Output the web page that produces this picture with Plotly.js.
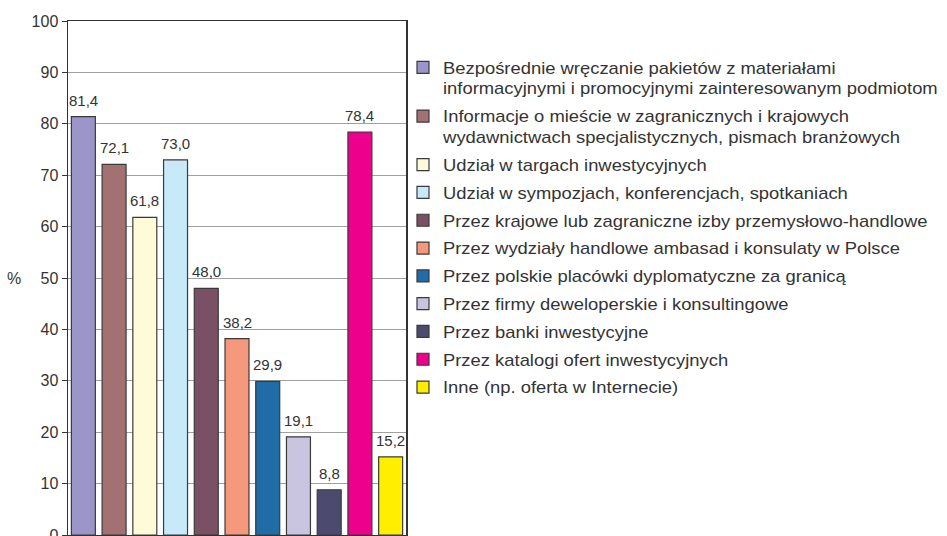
<!DOCTYPE html>
<html>
<head>
<meta charset="utf-8">
<script src="https://cdn.plot.ly/plotly-3.0.1.min.js"></script>
<style>
html,body{margin:0;padding:0;overflow:hidden;background:#fff;}
#chart{width:947px;height:536px;}
#chart .legendtext{transform-box:fill-box;transform-origin:0 50%;transform:scaleX(1.15);}
#chart .legend, #chart .legend *{clip-path:none !important;}
</style>
</head>
<body>
<div id="chart"></div>
<script>
const categories = [
  "Bezpośrednie wręczanie pakietów z materiałami<br>informacyjnymi i promocyjnymi zainteresowanym podmiotom",
  "Informacje o mieście w zagranicznych i krajowych<br>wydawnictwach specjalistycznych, pismach branżowych",
  "Udział w targach inwestycyjnych",
  "Udział w sympozjach, konferencjach, spotkaniach",
  "Przez krajowe lub zagraniczne izby przemysłowo-handlowe",
  "Przez wydziały handlowe ambasad i konsulaty w Polsce",
  "Przez polskie placówki dyplomatyczne za granicą",
  "Przez firmy deweloperskie i konsultingowe",
  "Przez banki inwestycyjne",
  "Przez katalogi ofert inwestycyjnych",
  "Inne (np. oferta w Internecie)"
];
const values = [81.4, 72.1, 61.8, 73.0, 48.0, 38.2, 29.9, 19.1, 8.8, 78.4, 15.2];
const colors = ["#9C95C9", "#A37171", "#FFFAD8", "#C8E9F8", "#7A5164", "#F5987B", "#1F6CA6", "#C9C5E1", "#4D4A6F", "#EC008C", "#FFEE00"];
const yTicks = [0, 10, 20, 30, 40, 50, 60, 70, 80, 90, 100];
const yLabel = "%";

const FONT = "Liberation Sans, Arial, sans-serif";

const traces = categories.map((name, i) => ({
  type: "bar",
  name: name,
  legendgroup: "g" + i,
  x: [i],
  y: [values[i]],
  width: 0.78,
  marker: { color: colors[i], line: { color: "#3a3a3a", width: 1.2 } },
  hoverinfo: "name+y"
}));

const annotations = values.map((v, i) => ({
  x: i, y: v, xref: "x", yref: "y",
  text: v.toFixed(1).replace(".", ","),
  showarrow: false, yanchor: "bottom", yshift: 6,
  font: { family: FONT, size: 15, color: "#333" }
}));
annotations.push({
  xref: "paper", yref: "y", x: 0, y: 50, xanchor: "right",
  xshift: -45, text: yLabel, showarrow: false,
  font: { family: FONT, size: 16, color: "#333" }
});

const layout = {
  width: 947, height: 536,
  margin: { l: 68, r: 541, t: 21, b: 1, autoexpand: false },
  paper_bgcolor: "#fff", plot_bgcolor: "#fff",
  barmode: "overlay",
  showlegend: true,
  font: { family: FONT, color: "#333" },
  xaxis: {
    range: [-0.5, 10.5], showticklabels: false, ticks: "",
    showgrid: false, zeroline: false, fixedrange: true,
    showline: true, mirror: true, linecolor: "#333", linewidth: 1.5
  },
  yaxis: {
    range: [0, 100], tickvals: yTicks, ticktext: yTicks.map(String),
    ticks: "outside", ticklen: 5, tickcolor: "#333", tickwidth: 1,
    ticklabeloverflow: "allow",
    tickfont: { family: FONT, size: 16, color: "#333" },
    showgrid: true, gridcolor: "#a0a0a0", gridwidth: 1, fixedrange: true,
    zeroline: false, showline: true, mirror: true, linecolor: "#333", linewidth: 1.5
  },
  legend: {
    x: 0.9911, y: 0.9425, xanchor: "left", yanchor: "top",
    traceorder: "grouped", tracegroupgap: 4, valign: "top",
    maxheight: 1,
    font: { family: FONT, size: 16, color: "#333" },
    bgcolor: "rgba(0,0,0,0)", borderwidth: 0
  },
  annotations: annotations
};

Plotly.newPlot("chart", traces, layout, { displayModeBar: false, staticPlot: true });
</script>
</body>
</html>
